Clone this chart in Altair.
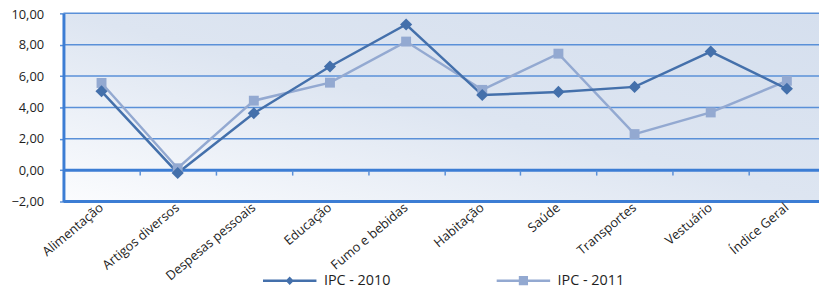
import altair as alt
import pandas as pd

categories = ["Alimentação", "Artigos diversos", "Despesas pessoais", "Educação",
              "Fumo e bebidas", "Habitação", "Saúde", "Transportes", "Vestuário",
              "Índice Geral"]
ipc_2010 = [5.03, -0.18, 3.63, 6.61, 9.29, 4.79, 4.99, 5.31, 7.56, 5.19]
ipc_2011 = [5.56, 0.12, 4.43, 5.58, 8.20, 5.12, 7.43, 2.30, 3.68, 5.70]
series_names = ["IPC - 2010", "IPC - 2011"]
series_colors = ["#4470ab", "#93a9d1"]
y_ticks = [-2, 0, 2, 4, 6, 8, 10]
title_text = "IPC da cidade de Maceió, por grupo - 2010-11"

rows = []
for s, vals in zip(series_names, [ipc_2010, ipc_2011]):
    for c, v in zip(categories, vals):
        rows.append({"categoria": c, "serie": s, "valor": v})
df = pd.DataFrame(rows)
grid_df = pd.DataFrame({"v": y_ticks})

W, H = 763, 190
FONT = "Open Sans"
AXIS_BLUE = "#3c7dd4"
GRID_BLUE = "#5a90d8"

x_scale = alt.Scale(type="band", domain=categories, range=[0, 769],
                    paddingInner=0, paddingOuter=0)
y_scale = alt.Scale(domain=[-2, 10], nice=False, zero=False)
y_axis = alt.Axis(values=y_ticks, grid=False, domain=True, domainColor=AXIS_BLUE,
                  domainWidth=3, ticks=True, tickSize=4, tickColor=GRID_BLUE,
                  tickWidth=1.5, labelFont=FONT, labelFontSize=13,
                  labelColor="#1e1e1e", labelPadding=16, title=None, zindex=1,
                  labelOffset={"condition": {"test": "datum.value == 10", "value": 1.5},
                               "value": 0},
                  labelExpr="replace(format(datum.value, '.2f'), '.', ',')")

x_label_axis = alt.Axis(title=None, orient="bottom", domain=False, ticks=False,
                        grid=False, labelAngle=-40, labelAlign="right",
                        labelBaseline="middle", labelPadding=4, labelFont=FONT,
                        labelFontSize=13, labelColor="#1e1e1e", labelOverlap=False,
                        zindex=1)
x_tick_axis = alt.Axis(title=None, orient="bottom", domain=False, labels=False,
                       grid=False, ticks=True, tickBand="extent", tickSize=5,
                       tickWidth=1.5, tickColor=GRID_BLUE, offset=-H * 2 / 12,
                       zindex=1)

def X(axis):
    return alt.X("categoria:N", sort=categories, scale=x_scale, bandPosition=0.5,
                 axis=axis)

def Y():
    return alt.Y("valor:Q", scale=y_scale, axis=y_axis)

gradient = {"gradient": "linear", "x1": 0, "y1": 1, "x2": 1, "y2": 0,
            "stops": [{"offset": 0, "color": "#fbfcfe"},
                      {"offset": 0.5, "color": "#dde5f1"},
                      {"offset": 1, "color": "#d5dfee"}]}

bg = alt.Chart(pd.DataFrame({"k": [0]})).mark_rect(fill=gradient).encode(
    x=alt.value(0), x2=alt.value("width"), y=alt.value(0), y2=alt.value("height"))

grid = alt.Chart(grid_df).mark_rule().encode(
    y=alt.Y("v:Q", scale=y_scale, axis=y_axis),
    x=alt.value(0), x2=alt.value("width"),
    stroke=alt.condition("datum.v <= 0", alt.value(AXIS_BLUE), alt.value(GRID_BLUE)),
    strokeWidth=alt.condition("datum.v <= 0", alt.value(3), alt.value(1.5)),
)

zero_ticks = alt.Chart(df).mark_point(opacity=0).encode(x=X(x_tick_axis), y=Y())

# legend symbols: a line with a marker (drawn by stroke)
sym_2010 = "M-1,0H1M0,-0.09L0.09,0L0,0.09L-0.09,0ZM0,-0.03L0.03,0L0,0.03L-0.03,0Z"
sym_2011 = "M-1,0H1M-0.126,-0.126H0.126V0.126H-0.126ZM-0.033,-0.033H0.033V0.033H-0.033Z"

def legend(x, sym):
    return alt.Legend(title=None, orient="none", legendX=x, legendY=241.5,
                      direction="horizontal", symbolSize=2916, symbolStrokeWidth=2.5,
                      symbolType=sym, labelFont=FONT, labelFontSize=14.5,
                      labelColor="#1e1e1e", labelOffset=6)

line_2010 = alt.Chart(df).transform_filter(
    alt.datum.serie == series_names[0]).mark_line(strokeWidth=2.5).encode(
    x=X(x_label_axis), y=Y(),
    color=alt.Color("serie:N", scale=alt.Scale(domain=[series_names[0]],
                                               range=[series_colors[0]]),
                    legend=legend(200, sym_2010)),
)
line_2011 = alt.Chart(df).transform_filter(
    alt.datum.serie == series_names[1]).mark_line(strokeWidth=2.5).encode(
    x=X(None), y=Y(),
    stroke=alt.Stroke("serie:N", scale=alt.Scale(domain=[series_names[1]],
                                                 range=[series_colors[1]]),
                      legend=legend(436, sym_2011)),
)

pts_2010 = alt.Chart(df).transform_filter(
    alt.datum.serie == series_names[0]).mark_point(
    shape="diamond", filled=True, size=150, opacity=1, color=series_colors[0]).encode(
    x=X(None), y=Y())
pts_2011 = alt.Chart(df).transform_filter(
    alt.datum.serie == series_names[1]).mark_point(
    shape="square", filled=True, size=100, opacity=1, color=series_colors[1]).encode(
    x=X(None), y=Y())

chart = alt.layer(bg, grid, zero_ticks, line_2011, line_2010, pts_2011, pts_2010).resolve_axis(
    x="independent"
).properties(
    width=W, height=H,
    title=alt.TitleParams(title_text, anchor="middle", font="Liberation Sans",
                          fontSize=14, fontWeight="bold", color="#000000",
                          baseline="bottom", offset=3, dx=-19),
    autosize=alt.AutoSizeParams(type="none"),
    padding={"left": 56, "top": 4, "right": 0, "bottom": 92},
).configure_view(stroke=None)

chart.save("out.html", embed_options={"renderer": "svg", "actions": False})
